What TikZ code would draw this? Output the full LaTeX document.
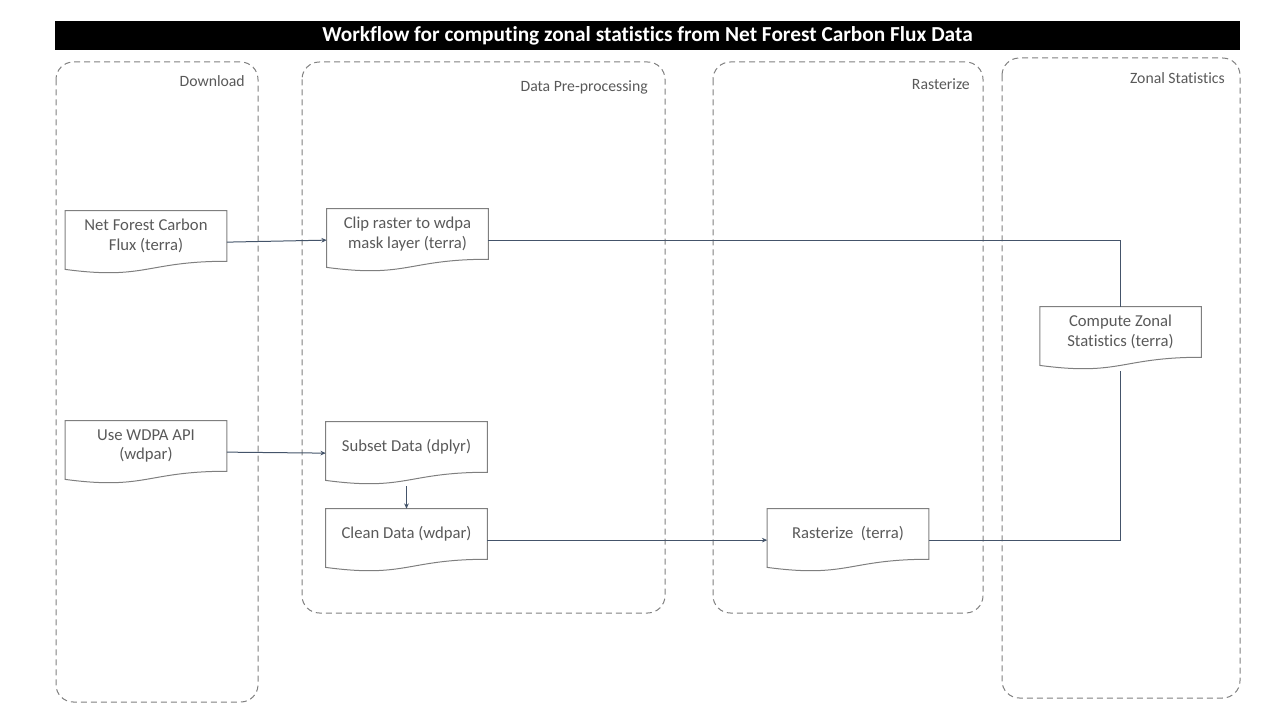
\documentclass[tikz,border=0pt]{standalone}
\usepackage{fontspec}
\setmainfont{Carlito}[Ligatures={NoCommon}]
\usetikzlibrary{positioning, arrows.meta}

\definecolor{textgray}{HTML}{595959}
\definecolor{boxgray}{HTML}{7F7F7F}
\definecolor{lanegray}{HTML}{808080}
\definecolor{linkblue}{HTML}{44546A}

\tikzset{
  lane/.style={draw=lanegray, line width=0.75pt, dash pattern=on 4.5pt off 3pt, rounded corners=13pt},
  lanename/.style={anchor=east, text=textgray, font=\fontsize{11.8}{14}\selectfont, inner sep=0pt},
  docbox/.style={minimum width=120.75pt, minimum height=37.5pt, inner sep=0pt, align=center,
    text=textgray, font=\fontsize{12.5}{14.6}\selectfont,
    append after command={\pgfextra{\draw[draw=boxgray, line width=0.75pt]
      (\tikzlastnode.north west) -- (\tikzlastnode.north east) -- (\tikzlastnode.south east)
      .. controls (\tikzlastnode.south) and ([yshift=-14.2pt]\tikzlastnode.south)
      .. ([yshift=-6.1pt]\tikzlastnode.south west) -- cycle;}}},
  link/.style={draw=linkblue, line width=0.75pt},
}

\begin{document}
\begin{tikzpicture}[x=0.75pt, y=-0.75pt, >={Stealth[length=4pt, width=3.5pt]}]
      \useasboundingbox (0,0) rectangle (1280,720);

      % title bar
      \fill[black] (55,21) rectangle (1240,50);
      \node[text=white, font=\bfseries\fontsize{16}{19}\selectfont] (title) at (647.5,36) {Workflow for computing zonal statistics from Net Forest Carbon Flux Data};

      % lanes
      \draw[lane] (56,62) rectangle (258,702);
      \draw[lane] (302,62) rectangle (665,613);
      \draw[lane] (713,62) rectangle (983,613);
      \draw[lane] (1002,58) rectangle (1240,698);
      \node[lanename] (ldown) at (245,81) {Download};
      \node[lanename] (lprep) at (648,87) {Data Pre-processing};
      \node[lanename] (lrast) at (970,84) {Rasterize};
      \node[lanename] (lzonal) at (1225,78) {Zonal Statistics};

      % steps
      \node[docbox] (flux) at (146,236) {Net Forest Carbon\\Flux (terra)};
      \node[docbox] (wdpa) at (146,446) {Use WDPA API\\(wdpar)};
      \node[docbox] (clip) at (407.5,234) {Clip raster to wdpa\\mask layer (terra)};
      \node[docbox] (subset) at (406.5,447) {Subset Data (dplyr)};
      \node[docbox] (clean) at (406.5,534) {Clean Data (wdpar)};
      \node[docbox] (raster) at (848,534) {Rasterize~ (terra)};
      \node[docbox] (zonal) at (1120.5,332) {Compute Zonal\\Statistics (terra)};

      % links
      \path ([yshift=-4.6pt]flux.east) edge[link, ->] ([yshift=-4.6pt]clip.west);
      \path ([yshift=-4.6pt]wdpa.east) edge[link, ->] ([yshift=-4.6pt]subset.west);
      \path ([yshift=-10.5pt]subset.south) edge[link, ->] (clean.north);
      \path ([yshift=-4.6pt]clean.east) edge[link, ->] ([yshift=-4.6pt]raster.west);
      \draw[link] ([yshift=-4.6pt]clip.east) -| (zonal.north);
      \draw[link] ([yshift=-4.6pt]raster.east) -| ([yshift=-10.5pt]zonal.south);
    \end{tikzpicture}
\end{document}
